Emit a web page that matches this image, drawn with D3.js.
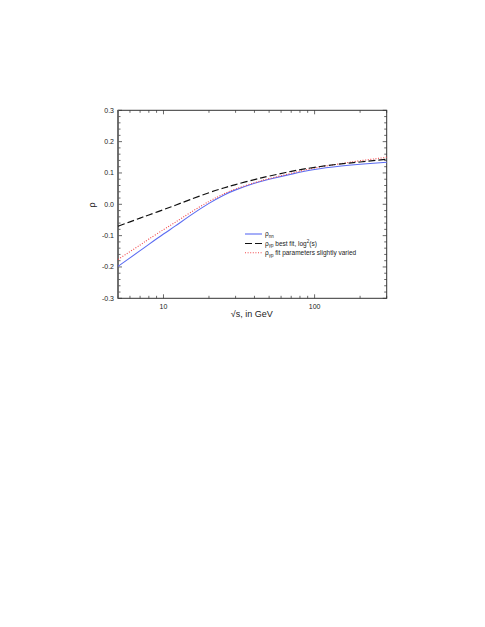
<!DOCTYPE html>
<html>
<head>
<meta charset="utf-8">
<script src="https://cdn.jsdelivr.net/npm/d3@7"></script>
<style>
  body { margin: 0; background: #fff; }
  text { font-family: "Liberation Sans", Arial, sans-serif; fill: #222; }
</style>
</head>
<body>
<div id="chart"></div>
<script>
// sqrt(s) in GeV
var energies = [5, 6, 7, 8, 10, 12, 15, 20, 25, 30, 40, 50, 70, 100, 150, 200, 300];
// rho_nn (blue solid)
var rhoNN = [-0.198, -0.171, -0.148, -0.128, -0.095, -0.069, -0.036, 0.003, 0.029, 0.046, 0.067, 0.080, 0.096, 0.111, 0.122, 0.128, 0.134];
// rho_gp best fit, log^2(s) (black dashed)
var rhoGpBest = [-0.070, -0.056, -0.044, -0.034, -0.017, -0.003, 0.015, 0.037, 0.052, 0.063, 0.079, 0.090, 0.105, 0.118, 0.129, 0.135, 0.144];
// rho_gp fit parameters slightly varied (red dotted)
var rhoGpVaried = [-0.176, -0.151, -0.130, -0.111, -0.081, -0.057, -0.027, 0.009, 0.033, 0.049, 0.069, 0.082, 0.099, 0.116, 0.130, 0.139, 0.150];

var yTicks = [-0.3, -0.2, -0.1, 0.0, 0.1, 0.2, 0.3];
var yTickLabels = ["-0.3", "-0.2", "-0.1", "0.0", "0.1", "0.2", "0.3"];
var xTicks = [10, 100];
var xTickLabels = ["10", "100"];

var width = 485, height = 627;
var pLeft = 118, pRight = 386.7, pTop = 110.3, pBottom = 298.3;

var svg = d3.select("#chart").append("svg")
  .attr("width", width)
  .attr("height", height);

var x = d3.scaleLog().domain([5, 300]).range([pLeft, pRight]);
var y = d3.scaleLinear().domain([-0.3, 0.3]).range([pBottom, pTop]);

// minor ticks
var xMinor = [];
[1, 10, 100].forEach(function(d) {
  for (var k = 1; k < 10; k++) {
    var v = d * k;
    if (v >= 5 && v <= 300 && xTicks.indexOf(v) < 0) xMinor.push(v);
  }
});
var yMinor = d3.range(-30, 31, 2).map(function(d) { return d / 100; })
  .filter(function(d) { return Math.abs(d * 10 - Math.round(d * 10)) > 1e-6; });

var tickColor = "#444";
var g = svg.append("g");

// bottom / top ticks
[pBottom, pTop].forEach(function(yy, i) {
  var dir = i == 0 ? -1 : 1;
  g.selectAll(null).data(xMinor).enter().append("line")
    .attr("x1", function(d) { return x(d); }).attr("x2", function(d) { return x(d); })
    .attr("y1", yy).attr("y2", yy + dir * 2.5)
    .attr("stroke", tickColor).attr("stroke-width", 0.8);
  g.selectAll(null).data(xTicks).enter().append("line")
    .attr("x1", function(d) { return x(d); }).attr("x2", function(d) { return x(d); })
    .attr("y1", yy).attr("y2", yy + dir * 4)
    .attr("stroke", tickColor).attr("stroke-width", 0.8);
});
// left / right ticks
[pLeft, pRight].forEach(function(xx, i) {
  var dir = i == 0 ? 1 : -1;
  g.selectAll(null).data(yMinor).enter().append("line")
    .attr("x1", xx).attr("x2", xx + dir * 2.5)
    .attr("y1", function(d) { return y(d); }).attr("y2", function(d) { return y(d); })
    .attr("stroke", tickColor).attr("stroke-width", 0.8);
  g.selectAll(null).data(yTicks).enter().append("line")
    .attr("x1", xx).attr("x2", xx + dir * 4)
    .attr("y1", function(d) { return y(d); }).attr("y2", function(d) { return y(d); })
    .attr("stroke", tickColor).attr("stroke-width", 0.8);
});

// frame
svg.append("rect")
  .attr("x", pLeft).attr("y", pTop)
  .attr("width", pRight - pLeft).attr("height", pBottom - pTop)
  .attr("fill", "none").attr("stroke", "#333").attr("stroke-width", 1);
svg.append("line")
  .attr("x1", pLeft).attr("x2", pLeft).attr("y1", pTop).attr("y2", pBottom)
  .attr("stroke", "#666").attr("stroke-width", 1.6);

// tick labels
svg.selectAll(null).data(yTicks).enter().append("text")
  .attr("x", pLeft - 4)
  .attr("y", function(d) { return y(d); })
  .attr("dy", "0.35em")
  .attr("text-anchor", "end")
  .attr("font-size", "7px")
  .text(function(d, i) { return yTickLabels[i]; });

svg.selectAll(null).data(xTicks).enter().append("text")
  .attr("x", function(d) { return x(d); })
  .attr("y", pBottom + 8.5)
  .attr("dy", "0.35em")
  .attr("text-anchor", "middle")
  .attr("font-size", "7px")
  .text(function(d, i) { return xTickLabels[i]; });

// axis titles
svg.append("text")
  .attr("x", (pLeft + pRight) / 2 - 0.5)
  .attr("y", 316.5)
  .attr("text-anchor", "middle")
  .attr("font-size", "9px")
  .text("\u221As, in GeV");

svg.append("text")
  .attr("transform", "translate(95,205) rotate(-90)")
  .attr("text-anchor", "middle")
  .attr("font-size", "9px")
  .text("\u03C1");

// curves
var line = d3.line()
  .x(function(d) { return x(d[0]); })
  .y(function(d) { return y(d[1]); })
  .curve(d3.curveNatural);

var series = [
  { values: rhoNN, color: "#5b6cf2", width: 1.1, dash: null },
  { values: rhoGpVaried, color: "#f2474b", width: 1.1, dash: "1,1.6" },
  { values: rhoGpBest, color: "#111", width: 1.2, dash: "7,3" }
];

svg.selectAll(null).data(series).enter().append("path")
  .attr("d", function(s) { return line(energies.map(function(e, i) { return [e, s.values[i]]; })); })
  .attr("fill", "none")
  .attr("stroke", function(s) { return s.color; })
  .attr("stroke-width", function(s) { return s.width; })
  .attr("stroke-dasharray", function(s) { return s.dash; });

// legend
var legend = [
  { color: "#5b6cf2", dash: null, width: 1.1, sub: "nn", text: "" },
  { color: "#111", dash: "7,3", width: 1.2, sub: "\u03B3p", text: " best fit, log", sup: "2", tail: "(s)" },
  { color: "#f2474b", dash: "1,1.6", width: 1.1, sub: "\u03B3p", text: " fit parameters slightly varied" }
];
var ly = [234, 243.5, 252.7];
legend.forEach(function(d, i) {
  svg.append("line")
    .attr("x1", 245).attr("x2", 262)
    .attr("y1", ly[i]).attr("y2", ly[i])
    .attr("stroke", d.color).attr("stroke-width", d.width)
    .attr("stroke-dasharray", d.dash);
  var t = svg.append("text")
    .attr("x", 265).attr("y", ly[i] + 2.3)
    .attr("font-size", "6.5px");
  t.append("tspan").text("\u03C1");
  t.append("tspan").attr("font-size", "4.5px").attr("dy", 1.5).text(d.sub);
  if (d.text) t.append("tspan").attr("dy", -1.5).text(d.text);
  if (d.sup) {
    t.append("tspan").attr("font-size", "4.5px").attr("dy", -2.5).text(d.sup);
    t.append("tspan").attr("dy", 2.5).text(d.tail);
  }
});
</script>
</body>
</html>
